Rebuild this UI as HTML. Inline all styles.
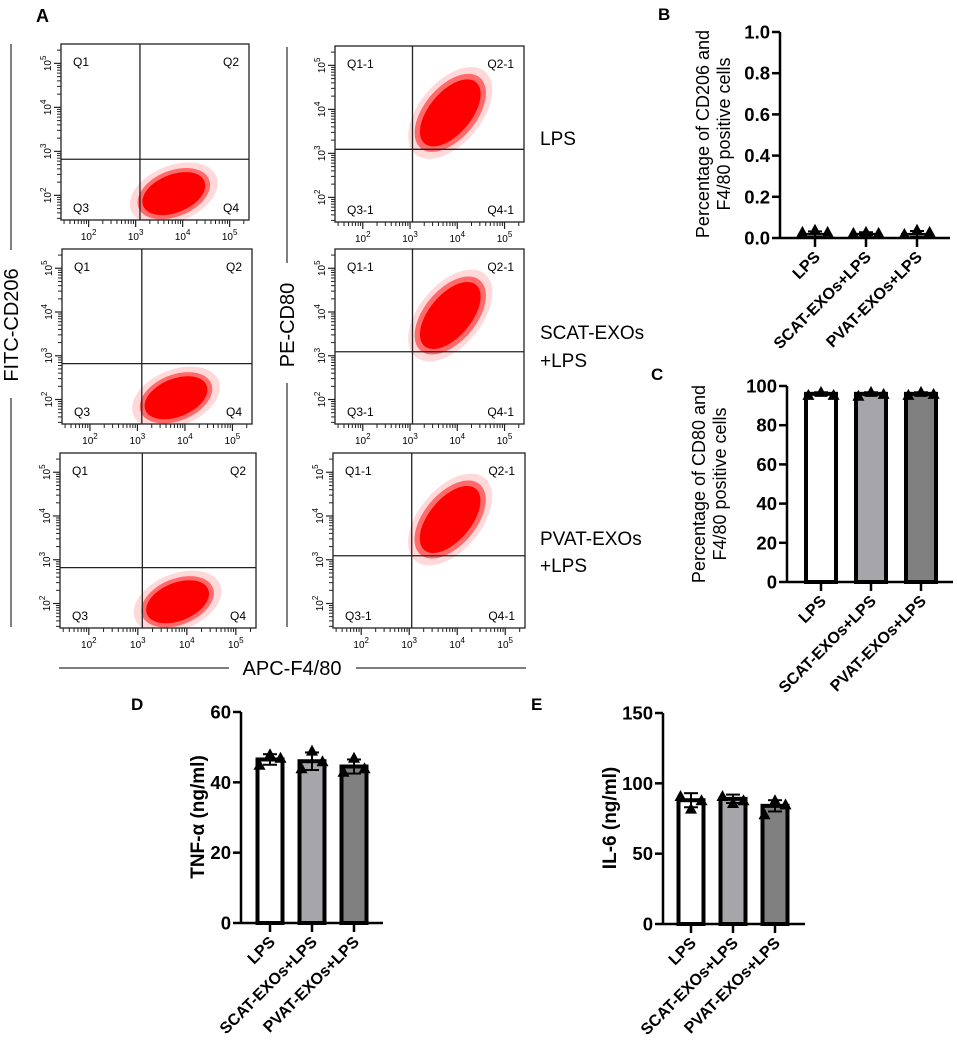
<!DOCTYPE html>
<html><head><meta charset="utf-8"><style>
html,body{margin:0;padding:0;background:#fff}
svg{display:block;font-family:"Liberation Sans",Arial,sans-serif}
</style></head><body>
<svg id="fig" width="957" height="1045" viewBox="0 0 957 1045" xmlns="http://www.w3.org/2000/svg">
<g id="flow"></g>
<g id="charts"></g>
<text x="36" y="22" font-size="18" font-weight="bold">A</text>
<text x="658" y="20" font-size="17" font-weight="bold">B</text>
<text x="651" y="380" font-size="17" font-weight="bold">C</text>
<text x="131" y="710" font-size="17" font-weight="bold">D</text>
<text x="531" y="710" font-size="17" font-weight="bold">E</text>
<line x1="11" y1="44" x2="11" y2="250" stroke="#555" stroke-width="1.5"/>
<line x1="11" y1="398" x2="11" y2="627" stroke="#555" stroke-width="1.5"/>
<text transform="translate(18,325) rotate(-90)" text-anchor="middle" font-size="20">FITC-CD206</text>
<line x1="287" y1="47" x2="287" y2="263" stroke="#555" stroke-width="1.5"/>
<line x1="287" y1="383" x2="287" y2="627" stroke="#555" stroke-width="1.5"/>
<text transform="translate(294,325) rotate(-90)" text-anchor="middle" font-size="20">PE-CD80</text>
<line x1="59" y1="668" x2="229" y2="668" stroke="#555" stroke-width="1.5"/>
<line x1="356" y1="668" x2="526" y2="668" stroke="#555" stroke-width="1.5"/>
<text x="292" y="675" text-anchor="middle" font-size="20">APC-F4/80</text>
<text x="540" y="145" font-size="19">LPS</text>
<text x="540" y="339" font-size="19">SCAT-EXOs</text>
<text x="540" y="367" font-size="19">+LPS</text>
<text x="540" y="545" font-size="19">PVAT-EXOs</text>
<text x="540" y="572" font-size="19">+LPS</text>
</svg>
<script>
// ---- Flow plot layout ----
const flowBoxes = [
 {x:61,y:44,w:188,h:176,side:'L'},{x:62,y:249,w:190,h:175,side:'L'},{x:60,y:453,w:196,h:175,side:'L'},
 {x:335,y:46,w:189,h:176,side:'R'},{x:335,y:249,w:189,h:175,side:'R'},{x:333,y:453,w:192,h:175,side:'R'}
];
const decadeLabels = ['2','3','4','5'];
// ---- Bar chart data ----
const categories = ['LPS','SCAT-EXOs+LPS','PVAT-EXOs+LPS'];
const bMeans = [0.02,0.02,0.02];
const bSD = [0.012,0.008,0.014];
const bPoints = [[0.03,0.04,0.03],[0.025,0.03,0.025],[0.02,0.04,0.03]];
const bTicks = ['0.0','0.2','0.4','0.6','0.8','1.0'];
const cMeans = [96,96,96];
const cSD = [0.8,0.8,0.8];
const cPoints = [[95.5,97,95.5],[95,97,96],[95.5,97,96]];
const cTicks = ['0','20','40','60','80','100'];
const dMeans = [46.5,46,44.5];
const dSD = [1.5,2.5,2];
const dPoints = [[45,48,47],[44,49,46],[43,47,44]];
const dTicks = ['0','20','40','60'];
const eMeans = [88,89,84];
const eSD = [5,3,4];
const ePoints = [[91,82,88],[91,86,88],[78,88,85]];
const eTicks = ['0','50','100','150'];
const fills = ['#ffffff','#a6a6aa','#808080'];

const NS='http://www.w3.org/2000/svg';
function mk(tag,attrs,parent){const e=document.createElementNS(NS,tag);for(const k in attrs)e.setAttribute(k,attrs[k]);parent.appendChild(e);return e;}

const flow=document.getElementById('flow');
flowBoxes.forEach((b,i)=>{
  const g=mk('g',{},flow);
  
  
  const L=b.side==='L';
  const vx=b.x+b.w*(L?0.42:0.41), hy=b.y+b.h*(L?0.655:0.587);
  const cx=b.x+b.w*(L?0.6:0.61), cy=b.y+b.h*(L?0.85:0.38);
  const clip='clip'+i;
  const cp=mk('clipPath',{id:clip},g);mk('rect',{x:b.x,y:b.y,width:b.w,height:b.h},cp);
  const cg=mk('g',{'clip-path':'url(#'+clip+')'},g);
  
  
  const rot=L?-22:-50;
  mk('ellipse',{cx:cx,cy:cy,rx:L?46:54,ry:L?28:31,fill:'#ff5050',opacity:0.22,transform:`rotate(${rot} ${cx} ${cy})`},cg);
  mk('ellipse',{cx:cx,cy:cy,rx:L?38:46,ry:L?23:26,fill:'#ff2020',opacity:0.6,transform:`rotate(${rot} ${cx} ${cy})`},cg);
  mk('ellipse',{cx:cx,cy:cy,rx:L?33:40,ry:L?19:21,fill:'#ff0000',transform:`rotate(${rot} ${cx} ${cy})`},cg);
  mk('rect',{x:b.x,y:b.y,width:b.w,height:b.h,fill:'none',stroke:'#222','stroke-width':1.3},g);
  mk('line',{x1:vx,y1:b.y,x2:vx,y2:b.y+b.h,stroke:'#222','stroke-width':1.3},g);
  mk('line',{x1:b.x,y1:hy,x2:b.x+b.w,y2:hy,stroke:'#222','stroke-width':1.3},g);
  const s=L?'':'-1';
  const q=[['Q1'+s,b.x+12,b.y+22,'start'],['Q2'+s,b.x+b.w-10,b.y+22,'end'],['Q3'+s,b.x+12,b.y+b.h-8,'start'],['Q4'+s,b.x+b.w-10,b.y+b.h-8,'end']];
  q.forEach(t=>{const e=mk('text',{x:t[1],y:t[2],'text-anchor':t[3],'font-size':12},g);e.textContent=t[0];
    
    });
  decadeLabels.forEach((d,k)=>{
    const fx=b.x+b.w*(0.147+0.25*k);
    const fy=b.y+b.h*(0.86-0.25*k);
    mk('line',{x1:fx,y1:b.y+b.h,x2:fx,y2:b.y+b.h+7,stroke:'#222','stroke-width':1.2},g);
    mk('line',{x1:b.x,y1:fy,x2:b.x-7,y2:fy,stroke:'#222','stroke-width':1.2},g);
    const tx=mk('text',{x:fx,y:b.y+b.h+20,'text-anchor':'middle','font-size':10},g);
    tx.innerHTML='10<tspan dy="-5" font-size="8">'+d+'</tspan>';
    
    
    const ty=mk('text',{transform:`translate(${b.x-10},${fy}) rotate(-90)`,'text-anchor':'middle','font-size':10},g);
    ty.innerHTML='10<tspan dy="-5" font-size="8">'+d+'</tspan>';
    
    
  });
  for(let k=-1;k<4;k++){for(let m=2;m<10;m++){
    const off=0.25*Math.log10(m);
    const fx=b.x+b.w*(0.147+0.25*k+off);
    if(fx>b.x && fx<b.x+b.w) mk('line',{x1:fx,y1:b.y+b.h,x2:fx,y2:b.y+b.h+4,stroke:'#222','stroke-width':1},g);
    const fy=b.y+b.h*(0.86-0.25*k-off);
    if(fy>b.y && fy<b.y+b.h) mk('line',{x1:b.x,y1:fy,x2:b.x-4,y2:fy,stroke:'#222','stroke-width':1},g);
  }}
});

const charts=document.getElementById('charts');
function barChart(o){
  const g=mk('g',{},charts);
  
  
  const y=v=>o.y0-(v-o.min)/(o.max-o.min)*(o.y0-o.y1);
  const x=i=>o.t0+i*o.step;
  o.means.forEach((m,i)=>{
    const h=o.y0-y(m);
    const r=mk('rect',{x:x(i)-o.bw/2,y:y(m),width:o.bw,height:Math.max(h,0.5),fill:fills[i],stroke:'#000','stroke-width':o.sw},g);
    
    
    const e=mk('g',{},g);
    
    
    mk('line',{x1:x(i),y1:y(m+o.sd[i]),x2:x(i),y2:y(m-o.sd[i]),stroke:'#000','stroke-width':2},e);
    mk('line',{x1:x(i)-7,y1:y(m+o.sd[i]),x2:x(i)+7,y2:y(m+o.sd[i]),stroke:'#000','stroke-width':2},e);
    mk('line',{x1:x(i)-7,y1:y(m-o.sd[i]),x2:x(i)+7,y2:y(m-o.sd[i]),stroke:'#000','stroke-width':2},e);
    o.points[i].forEach((p,j)=>{
      const px=x(i)+(j-1)*o.bw*0.42, py=y(p);
      const t=mk('polygon',{points:`${px-6},${py+5} ${px+6},${py+5} ${px},${py-6}`,fill:'#000'},g);
      
      
    });
  });
  mk('line',{x1:o.ax,y1:o.y1,x2:o.ax,y2:o.y0+1,stroke:'#000','stroke-width':2.5},g);
  mk('line',{x1:o.ax,y1:o.y0,x2:o.xend,y2:o.y0,stroke:'#000','stroke-width':2.5},g);
  o.ticks.forEach((t,k)=>{
    const v=o.min+k*(o.max-o.min)/(o.ticks.length-1);
    mk('line',{x1:o.ax-8,y1:y(v),x2:o.ax,y2:y(v),stroke:'#000','stroke-width':2.5},g);
    const tx=mk('text',{x:o.ax-10,y:y(v)+6.5,'text-anchor':'end','font-size':18.5,'font-weight':'bold'},g);
    tx.textContent=t;
    
    
  });
  categories.forEach((c,i)=>{
    mk('line',{x1:x(i),y1:o.y0,x2:x(i),y2:o.y0+9,stroke:'#000','stroke-width':2.5},g);
    const tx=mk('text',{transform:`translate(${x(i)+6},${o.y0+20}) rotate(-45)`,'text-anchor':'end','font-size':16,'font-weight':'bold'},g);
    tx.textContent=c;
    
    
  });
  o.title.forEach((line,k)=>{
    const tx=mk('text',{transform:`translate(${o.tx+k*21},${o.ty}) rotate(-90)`,'text-anchor':'middle','font-size':o.tfs,'font-weight':o.tbold?'bold':'normal'},g);
    tx.textContent=line;
    
    
  });
}
barChart({name:'chart-b-cd206',means:bMeans,sd:bSD,points:bPoints,ticks:bTicks,min:0,max:1,y0:238,y1:32,ax:780,xend:950,t0:815,step:51,bw:30,sw:2,
  title:['Percentage of CD206 and','F4/80 positive cells'],tx:709,ty:134,tfs:18,tbold:false});
barChart({name:'chart-c-cd80',means:cMeans,sd:cSD,points:cPoints,ticks:cTicks,min:0,max:100,y0:582,y1:386,ax:787,xend:953,t0:821,step:50,bw:30,sw:4,
  title:['Percentage of CD80 and','F4/80 positive cells'],tx:705,ty:484,tfs:18,tbold:false});
barChart({name:'chart-d-tnf',means:dMeans,sd:dSD,points:dPoints,ticks:dTicks,min:0,max:60,y0:923,y1:712,ax:241,xend:383,t0:270,step:42,bw:25,sw:4,
  title:['TNF-α (ng/ml)'],tx:204,ty:817,tfs:19,tbold:true});
barChart({name:'chart-e-il6',means:eMeans,sd:eSD,points:ePoints,ticks:eTicks,min:0,max:150,y0:924,y1:713,ax:663,xend:805,t0:691,step:42,bw:25,sw:4,
  title:['IL-6 (ng/ml)'],tx:616,ty:818,tfs:19,tbold:true});
</script>
</body></html>
